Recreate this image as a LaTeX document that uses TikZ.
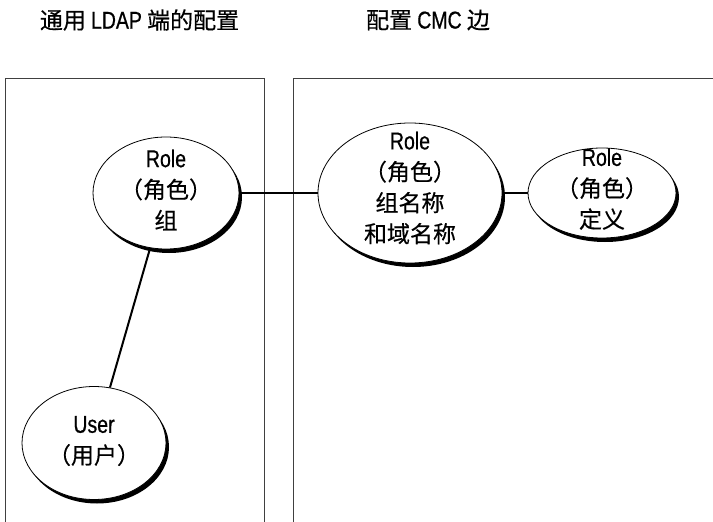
\documentclass[tikz,border=0pt]{standalone}
\usepackage{fontspec}
\setmainfont[FakeBold=0.4]{Noto Sans CJK SC}
\newfontfamily\lat[Scale=1.06,FakeStretch=0.8,FakeBold=0.6]{Liberation Sans}
\usetikzlibrary{shapes.geometric,shadows}

\begin{document}
\begin{tikzpicture}[x=1pt, y=-1pt, font=\fontsize{23}{31}\selectfont,
  oval/.style={draw, ellipse, line width=0.8pt, fill=white, inner sep=0pt,
    drop shadow={shadow xshift=3pt, shadow yshift=-4pt, fill=black, opacity=1}},
  txt/.style={align=center, inner sep=0pt},
  link/.style={line width=2pt},
  pane/.style={draw=black!75, line width=0.9pt}]
\useasboundingbox (0,0) rectangle (713,522);
% titles
\node[txt] (ldaptitle) at (139.5,20) {通用 {\lat LDAP} 端的配置};
\node[txt] (cmctitle)  at (428,20)   {配置 {\lat CMC} 边};
% panes
\draw[pane] (5,522) -- (5,78) -- (264,78) -- (264,522);
\draw[pane] (293,522) -- (293,78) -- (713,78);
% ovals
\node[oval, minimum width=146pt, minimum height=112pt] (grp) at (166,193) {};
\node[oval, minimum width=184pt, minimum height=140pt] (mid) at (410,193) {};
\node[oval, minimum width=148pt, minimum height=90pt]  (def) at (602,193) {};
\node[oval, minimum width=144pt, minimum height=113pt] (usr) at (94,443)  {};
\node[txt] (grptext) at (166,190) {{\lat Role}\\（角色）\\组};
\node[txt] (midtext) at (410,188) {{\lat Role}\\（角色）\\组名称\\和域名称};
\node[txt] (deftext) at (602,189) {{\lat Role}\\（角色）\\定义};
\node[txt] (usrtext) at (94,441)  {{\lat User}\\（用户）};
% links
\draw[link] (grp.east) -- (mid.west);
\draw[link] (mid.east) -- (def.west);
\draw[link] (grp) -- (usr);
\end{tikzpicture}
\end{document}
